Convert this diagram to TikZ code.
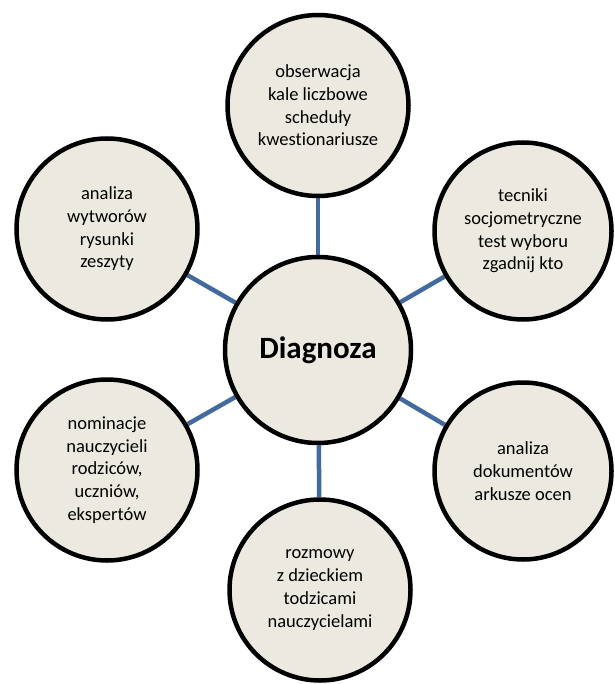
\documentclass[tikz,border=0pt]{standalone}
\usepackage{fontspec}
\setmainfont[Ligatures=NoCommon]{Carlito}
\usetikzlibrary{backgrounds}
\definecolor{bubblefill}{RGB}{236,234,224}
\definecolor{linkblue}{RGB}{66,106,158}
\begin{document}
\begin{tikzpicture}[x=1pt,y=-1pt,
  bubble/.style={circle,draw=black,line width=4.5pt,fill=bubblefill,
    minimum size=181pt,inner sep=0pt,align=center,
    font=\fontsize{18.5}{22.7}\selectfont},
  hub/.style={bubble,minimum size=186pt,font=\fontsize{31}{36}\selectfont\bfseries},
  link/.style={draw=linkblue,line width=4.5pt}]
\useasboundingbox (0,0) rectangle (614,684);
\node[hub] (c) at (318,350) {Diagnoza};
\node[bubble] (t) at (318,105.5) {obserwacja\\kale liczbowe\\scheduły\\kwestionariusze};
\node[bubble] (lt) at (107,229) {analiza\\wytworów\\rysunki\\zeszyty};
\node[bubble,minimum size=177pt] (rt) at (523,231) {tecniki\\socjometryczne\\test wyboru\\zgadnij kto};
\node[bubble] (lb) at (107,470) {nominacje\\nauczycieli\\rodziców,\\uczniów,\\ekspertów};
\node[bubble,minimum size=177pt] (rb) at (523,471) {analiza\\dokumentów\\arkusze ocen};
\node[bubble] (b) at (320,590) {rozmowy\\z dzieckiem\\todzicami\\nauczycielami};
\begin{scope}[on background layer]
\draw[link] (c) -- (t);
\draw[link] (c) -- (lt);
\draw[link] (c) -- (rt);
\draw[link] (c) -- (lb);
\draw[link] (c) -- (rb);
\draw[link] (c) -- (b);
\end{scope}
\end{tikzpicture}
\end{document}
